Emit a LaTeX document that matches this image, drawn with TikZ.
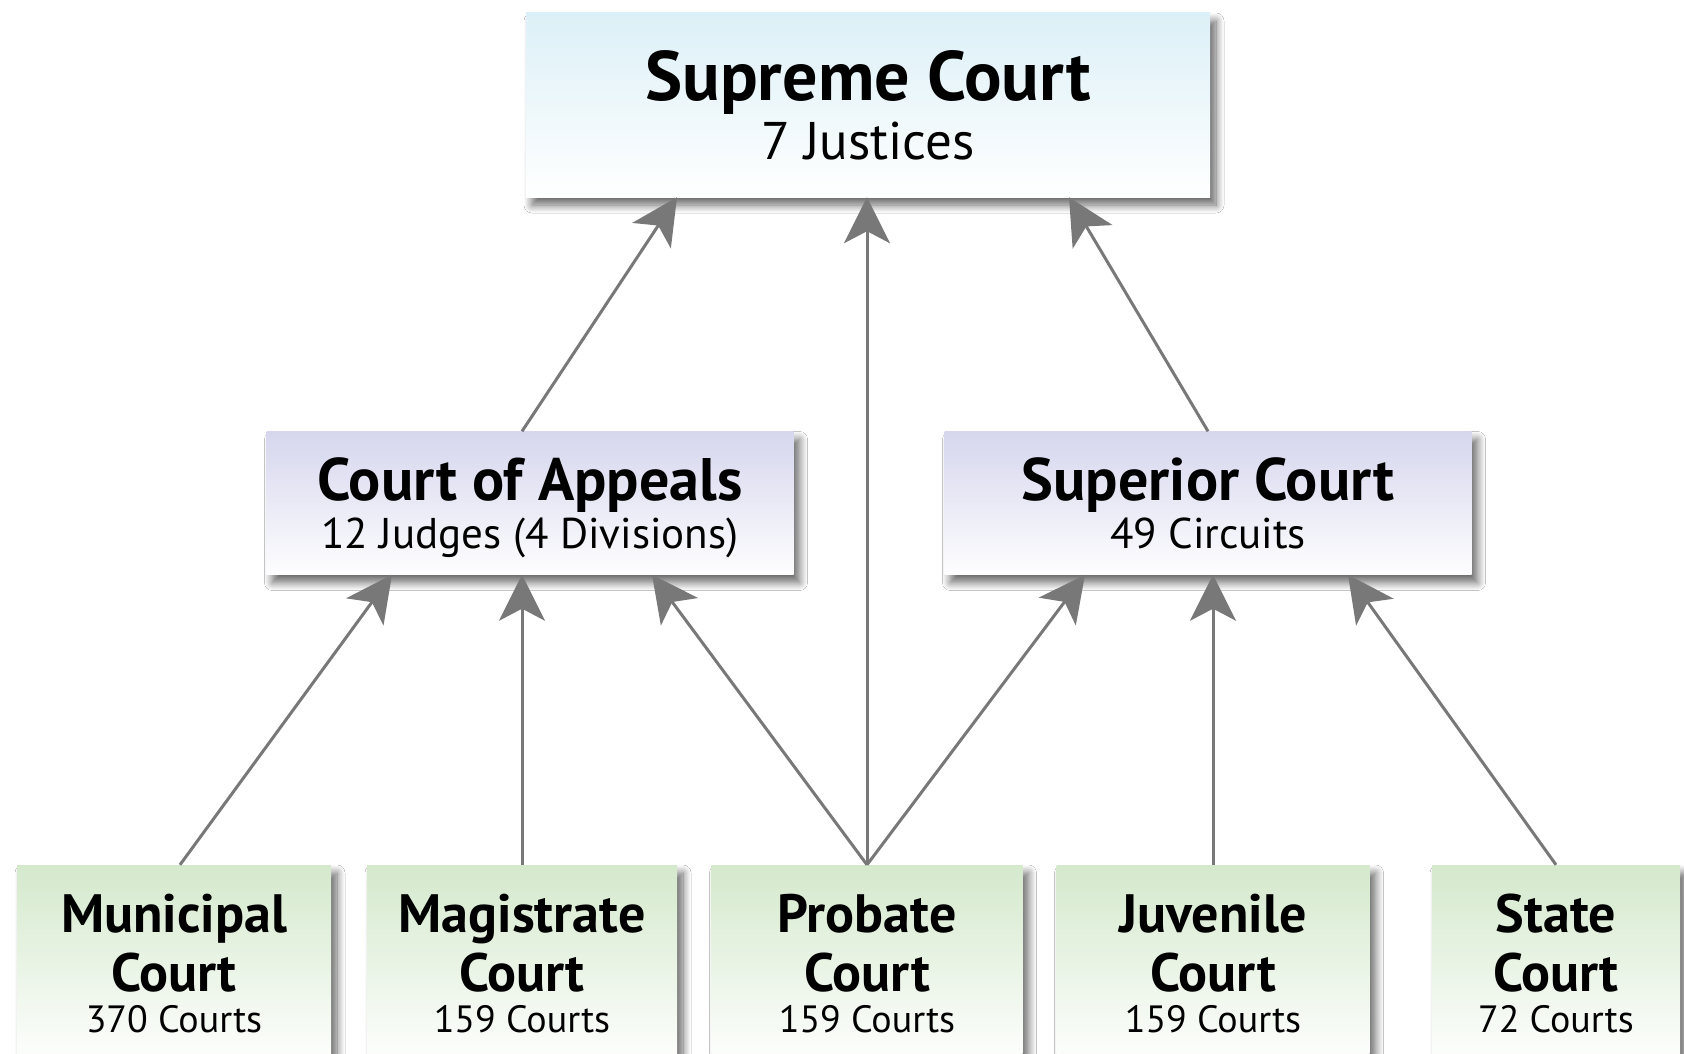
\documentclass[tikz,border=0pt]{standalone}
\usepackage{fontspec}
\setmainfont{PT Sans}
\usepackage{tikz}
\usetikzlibrary{arrows.meta,positioning,calc,shadows.blur}
\usepackage{xcolor}

\definecolor{topcol}{RGB}{220,240,247}
\definecolor{midcol}{RGB}{214,214,238}
\definecolor{lowcol}{RGB}{212,233,204}
\definecolor{arrowgray}{RGB}{120,120,120}

\begin{document}
\begin{tikzpicture}[
    x=1pt, y=-1pt,
    court/.style={rectangle, inner sep=0pt, align=center, text depth=0pt,
        blur shadow={shadow xshift=6pt, shadow yshift=-8pt, shadow blur steps=12, shadow blur radius=8pt, shadow opacity=60}},
    topbox/.style={court, top color=topcol, bottom color=white, minimum width=684pt, minimum height=184pt,
        font=\fontsize{70}{59}\selectfont},
    midbox/.style={court, top color=midcol, bottom color=white!96!midcol, minimum width=527pt, minimum height=143pt,
        font=\fontsize{60}{48}\selectfont},
    lowbox/.style={court, top color=lowcol, bottom color=white!97!lowcol, minimum height=196pt,
        font=\fontsize{54}{59}\selectfont},
    link/.style={->, line width=3pt, draw=arrowgray},
    >={Stealth[length=46pt, width=46pt, inset=12pt]}
]
    \clip (0,0) rectangle (1684,1054);
    \fill[white] (0,0) rectangle (1684,1054);

    % Top level
    \node[topbox] (supreme) at (868,105) {\textbf{Supreme Court}\\{\fontsize{53}{0}\selectfont 7 Justices}};

    % Middle level
    \node[midbox] (appeals) at (530,503) {\textbf{Court of Appeals}\\{\fontsize{43}{0}\selectfont 12 Judges (4 Divisions)}};
    \node[midbox] (superior) at (1208,503) {\textbf{Superior Court}\\{\fontsize{43}{0}\selectfont 49 Circuits}};

    % Bottom level
    \node[lowbox, minimum width=314pt] (municipal) at (174,963) {\textbf{Municipal}\\\textbf{Court}\\[-18pt]{\fontsize{38}{0}\selectfont 370 Courts}};
    \node[lowbox, minimum width=310pt] (magistrate) at (522,963) {\textbf{Magistrate}\\\textbf{Court}\\[-18pt]{\fontsize{38}{0}\selectfont 159 Courts}};
    \node[lowbox, minimum width=311pt] (probate) at (867,963) {\textbf{Probate}\\\textbf{Court}\\[-18pt]{\fontsize{38}{0}\selectfont 159 Courts}};
    \node[lowbox, minimum width=313pt] (juvenile) at (1213,963) {\textbf{Juvenile}\\\textbf{Court}\\[-18pt]{\fontsize{38}{0}\selectfont 159 Courts}};
    \node[lowbox, minimum width=248pt] (state) at (1556,963) {\textbf{State}\\\textbf{Court}\\[-18pt]{\fontsize{38}{0}\selectfont 72 Courts}};

    % Appeals
    \draw[link] ([xshift=6pt]municipal.north) -- ([xshift=-138pt]appeals.south);
    \draw[link] (magistrate.north) -- (magistrate.north |- appeals.south);
    \draw[link] (probate.north) -- ([xshift=122pt]appeals.south);
    \draw[link] (probate.north) -- ([xshift=-123pt]superior.south);
    \draw[link] (probate.north) -- (probate.north |- supreme.south);
    \draw[link] (juvenile.north) -- (juvenile.north |- superior.south);
    \draw[link] (state.north) -- ([xshift=140pt]superior.south);
    \draw[link] ([xshift=-8pt]appeals.north) -- ([xshift=-191pt]supreme.south);
    \draw[link] (superior.north) -- ([xshift=-139pt]superior.north |- supreme.south);
\end{tikzpicture}
\end{document}
